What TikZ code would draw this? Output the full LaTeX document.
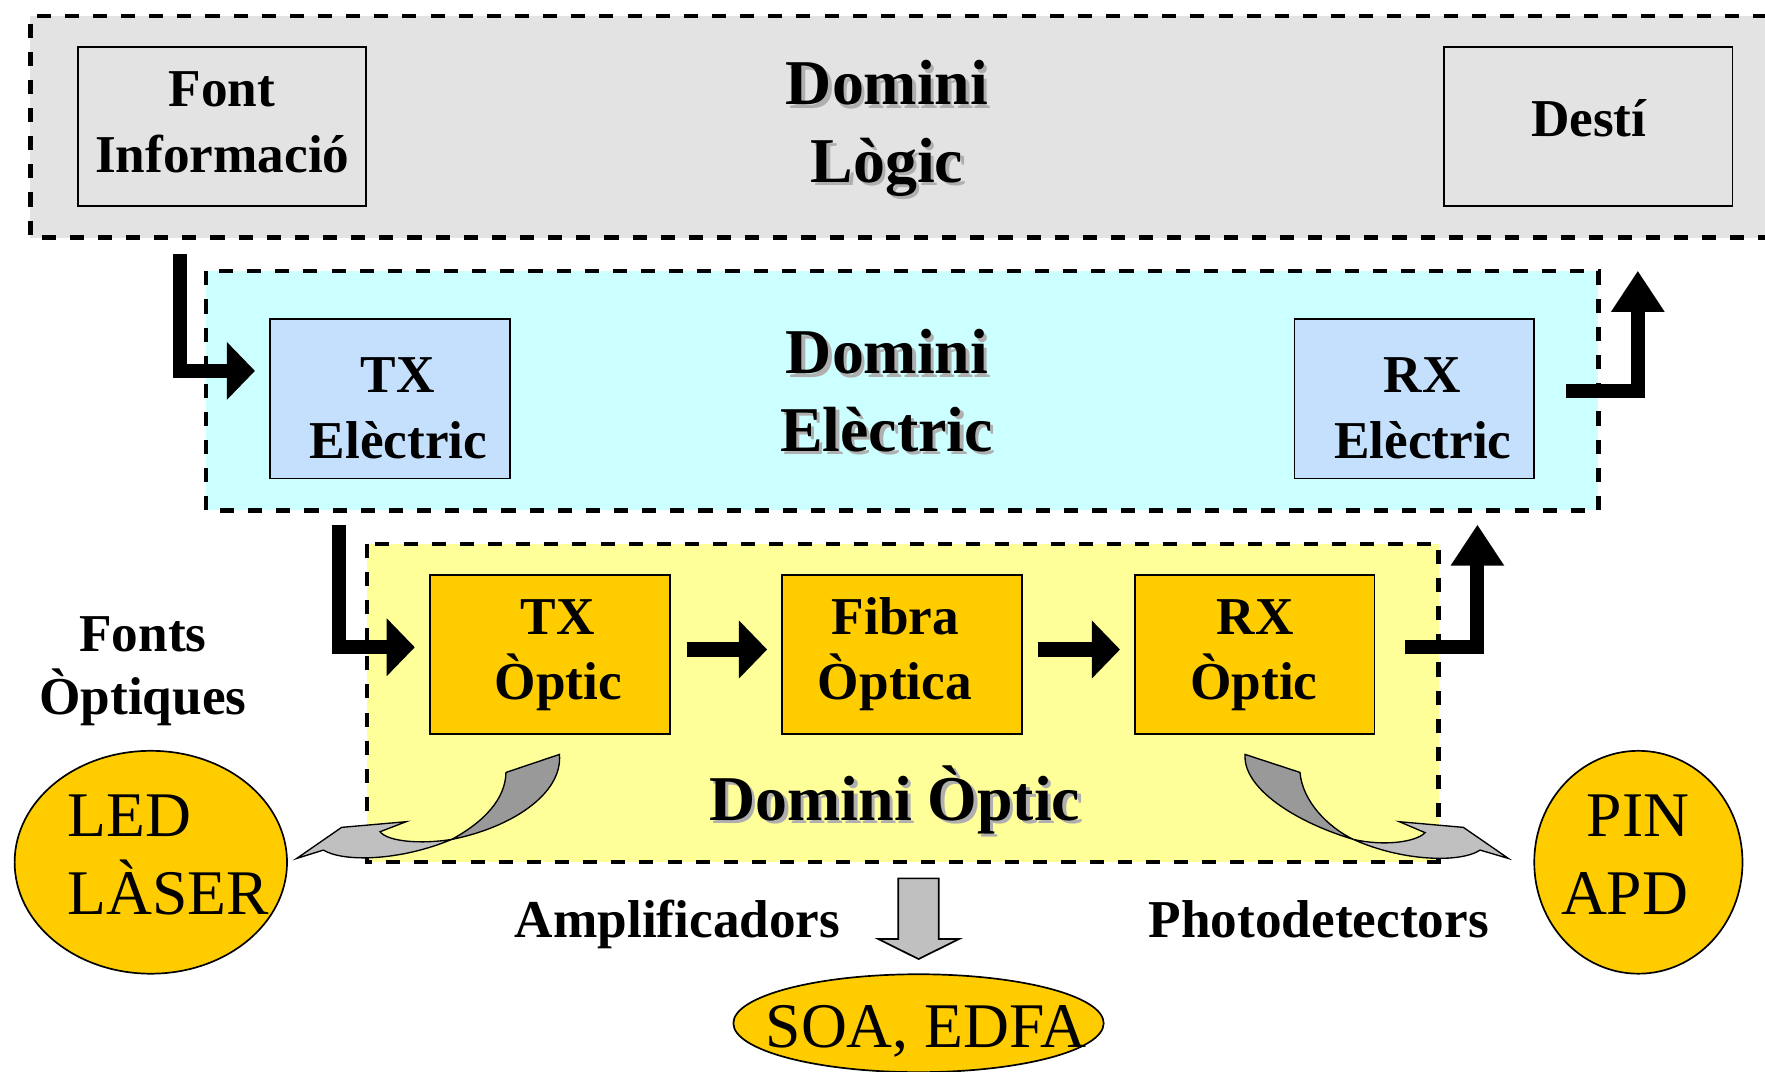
\documentclass[tikz,border=0pt]{standalone}
\usepackage{fontspec}
\setmainfont{Liberation Serif}
\usetikzlibrary{arrows.meta,shapes.geometric}
\definecolor{logicbg}{HTML}{E3E3E3}
\definecolor{elecbg}{HTML}{CCFFFF}
\definecolor{elecbox}{HTML}{C4E0FC}
\definecolor{optbg}{HTML}{FFFF99}
\definecolor{optbox}{HTML}{FFCC00}
\definecolor{darkgr}{HTML}{999999}
\definecolor{lightgr}{HTML}{C0C0C0}
\definecolor{shadowgr}{HTML}{AFAFAF}
\newcommand\shtitle[4]{%
  \node[titletxt,text=shadowgr] (#1s) at (#2+3,#3+3) {#4};
  \node[titletxt] (#1) at (#2,#3) {#4};}
\begin{document}
\begin{tikzpicture}[x=1pt,y=-1pt,
  domainline/.style={draw=black, line width=3.8pt, dash pattern=on 12.5pt off 12.5pt},
  blockbox/.style={draw=black, line width=1.5pt, inner sep=0pt, outer sep=0pt},
  boxtxt/.style={font=\fontsize{47.3}{47.3}\selectfont\bfseries, anchor=base, inner sep=0pt},
  titletxt/.style={font=\fontsize{56.7}{56.7}\selectfont\bfseries, anchor=base, inner sep=0pt},
  elltxt/.style={font=\fontsize{56.5}{56.5}\selectfont, inner sep=0pt},
  ell/.style={ellipse, draw=black, line width=1.5pt, fill=optbox, inner sep=0pt, outer sep=0pt},
  blkh/.style={draw=black, line width=12.5pt, -{Triangle[width=50pt,length=25pt]}, line join=miter},
  blkv/.style={draw=black, line width=12.5pt, -{Triangle[width=45pt,length=36.5pt]}, line join=miter},
  twist/.style={draw=black, line width=1.2pt, line join=miter},
  grayarrow/.style={draw=black, line width=1.5pt, fill=lightgr, line join=miter}
]
\useasboundingbox (0,0) rectangle (1568,951.5);
\clip (0,0) rectangle (1568,951.5);

% ---------- domains ----------
\fill[logicbg] (27,14) rectangle (1620,211);
\draw[domainline] (1620,14) -- (27,14) -- (27,211) -- (1620,211);
\fill[elecbg] (183,241) rectangle (1420,453.5);
\draw[domainline] (183,241) rectangle (1420,453.5);
\fill[optbg] (326,483) rectangle (1278,766);
\draw[domainline] (326,483) rectangle (1278,766);

% ---------- boxes ----------
\node[blockbox, fill=logicbg, minimum width=256pt, minimum height=141pt] (font) at (197,112.5) {};
\node[blockbox, fill=logicbg, minimum width=256pt, minimum height=141pt] (desti) at (1411,112.5) {};
\node[blockbox, fill=elecbox, minimum width=213pt, minimum height=141.5pt] (txe) at (346.5,354.25) {};
\node[blockbox, fill=elecbox, minimum width=213pt, minimum height=141.5pt] (rxe) at (1256.5,354.25) {};
\node[blockbox, fill=optbox, minimum width=213pt, minimum height=141pt] (txo) at (488.5,581.5) {};
\node[blockbox, fill=optbox, minimum width=213pt, minimum height=141pt] (fib) at (801.5,581.5) {};
\node[blockbox, fill=optbox, minimum width=213pt, minimum height=141pt] (rxo) at (1114.5,581.5) {};

% box texts
\node[boxtxt] (fontA) at (197,95) {Font};
\node[boxtxt] (fontB) at (197.5,153) {Informació};
\node[boxtxt] (destiA) at (1411.5,121) {Destí};
\node[boxtxt] (txeA) at (353.5,349) {TX};
\node[boxtxt] (txeB) at (354,407) {Elèctric};
\node[boxtxt] (rxeA) at (1263.5,349) {RX};
\node[boxtxt] (rxeB) at (1264,407) {Elèctric};
\node[boxtxt] (txoA) at (495.5,564) {TX};
\node[boxtxt] (txoB) at (496,621) {Òptic};
\node[boxtxt] (fibA) at (795.5,564) {Fibra};
\node[boxtxt] (fibB) at (795,621) {Òptica};
\node[boxtxt] (rxoA) at (1115,564) {RX};
\node[boxtxt] (rxoB) at (1114,621) {Òptic};

% domain titles with shadow
\shtitle{tlA}{788}{93}{Domini}
\shtitle{tlB}{788}{162}{Lògic}
\shtitle{teA}{788}{332}{Domini}
\shtitle{teB}{787.5}{401}{Elèctric}
\shtitle{toA}{795}{729}{Domini Òptic}

% side labels
\node[boxtxt] (fontsA) at (127,579) {Fonts};
\node[boxtxt] (fontsB) at (127,635) {Òptiques};
\node[boxtxt] (ampl) at (602,833) {Amplificadors};
\node[boxtxt] (photo) at (1171.5,833) {Photodetectors};

% ---------- black block arrows ----------
\coordinate (a1s) at (159.5,226);
\coordinate (a1e) at (226.5,329.5);
\draw[blkh] (a1s) |- (a1e);
\coordinate (a2s) at (301,466);
\coordinate (a2e) at (368.5,575);
\draw[blkh] (a2s) |- (a2e);
\draw[blkh, shorten <=15pt, shorten >=13.5pt] ([yshift=4.5pt]txo.east) -- ([yshift=4.5pt]fib.west);
\draw[blkh, shorten <=14pt, shorten >=13pt] ([yshift=4.5pt]fib.east) -- ([yshift=4.5pt]rxo.west);
\coordinate (a5s) at (1248,574.5);
\coordinate (a5e) at (1312.5,466);
\draw[blkv] (a5s) -| (a5e);
\coordinate (a6s) at (1391,347);
\coordinate (a6e) at (1455,240.5);
\draw[blkv] (a6s) -| (a6e);

% ---------- twisted gray arrows ----------
\filldraw[twist, fill=darkgr] (497,670.2) .. controls (500,705) and (455,735) .. (401.3,745.7)
  .. controls (430,730) and (449,710) .. (449.5,686.2) -- cycle;
\filldraw[twist, fill=lightgr] (401.3,745.7) .. controls (375,750) and (345,748) .. (337.6,738.9)
  -- (360.7,730) -- (303.5,735) -- (263.6,762.6) -- (287.3,755.2)
  .. controls (305,766) and (355,765) .. (401.3,745.7) -- cycle;

\filldraw[twist, fill=darkgr] (1106.1,670.2) .. controls (1104,700) and (1150,730) .. (1202.3,745.7)
  .. controls (1180,735) and (1157,712) .. (1154.9,686.2) -- cycle;
\filldraw[twist, fill=lightgr] (1202.3,745.7) .. controls (1230,752) and (1258,748) .. (1266,739.7)
  -- (1243.2,730) -- (1300,735) -- (1340,762.6) -- (1314.9,755.2)
  .. controls (1297,767) and (1245,765) .. (1202.3,745.7) -- cycle;

% ---------- ellipses ----------
\node[ell, minimum width=242pt, minimum height=198pt] (led) at (134,766) {};
\node[elltxt, anchor=base west] (ledA) at (60,743) {LED};
\node[elltxt, anchor=base west] (ledB) at (60,812) {LÀSER};
\node[ell, minimum width=185pt, minimum height=198pt] (pin) at (1455.5,766) {};
\node[elltxt, anchor=base east] (pinA) at (1501,743) {PIN};
\node[elltxt, anchor=base east] (pinB) at (1500,812) {APD};
\node[ell, minimum width=329pt, minimum height=87pt] (soa) at (816,909) {};
\node[elltxt, anchor=base] (soaA) at (822.5,931) {SOA, EDFA};

% gray down arrow to amplifiers
\filldraw[grayarrow] (798,780.3) -- (834,780.3) -- (834,834.2) -- (852,834.2) -- (816,852)
  -- (780.3,834.2) -- (798,834.2) -- cycle;
\end{tikzpicture}
\end{document}
